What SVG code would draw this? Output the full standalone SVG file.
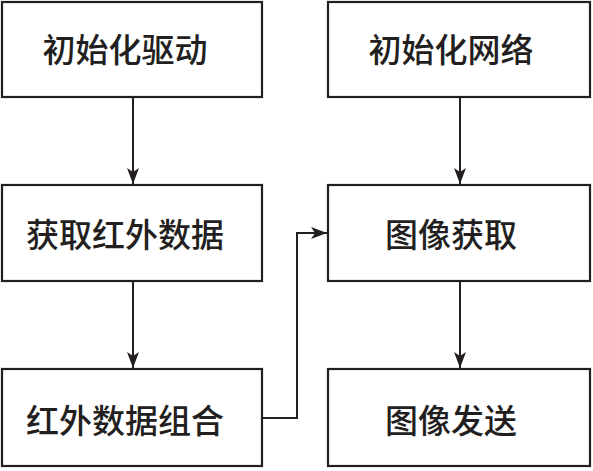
<svg xmlns="http://www.w3.org/2000/svg" width="593" height="471" viewBox="0 0 593 471">
<style>
.box{fill:#fff;stroke:#231f20;stroke-width:2.2}
.lbl{font-family:"Noto Sans CJK SC","Noto Sans CJK JP",sans-serif;font-size:33px;font-weight:500;fill:#231f20;text-anchor:middle;dominant-baseline:central}
.conn{fill:none;stroke:#231f20;stroke-width:2}
</style>
<defs>
<marker id="ah" markerWidth="16" markerHeight="12" refX="16" refY="6" viewBox="0 0 16 12" markerUnits="userSpaceOnUse" orient="auto">
<path d="M0,0 L16,6 L0,12 L4,6 Z" fill="#231f20"/>
</marker>
</defs>
<rect width="593" height="471" fill="#fff"/>
<g id="n1"><rect class="box" x="2" y="2" width="260" height="95"/><text class="lbl" x="125" y="48">初始化驱动</text></g>
<g id="n2"><rect class="box" x="328" y="2" width="262" height="95"/><text class="lbl" x="451" y="48">初始化网络</text></g>
<g id="n3"><rect class="box" x="2" y="185" width="260" height="96"/><text class="lbl" x="125" y="233">获取红外数据</text></g>
<g id="n4"><rect class="box" x="328" y="185" width="262" height="96"/><text class="lbl" x="451" y="233">图像获取</text></g>
<g id="n5"><rect class="box" x="2" y="369" width="260" height="97"/><text class="lbl" x="125" y="419">红外数据组合</text></g>
<g id="n6"><rect class="box" x="328" y="369" width="262" height="97"/><text class="lbl" x="451" y="419">图像发送</text></g>
<g id="connectors">
<path class="conn" d="M133,97 V184" marker-end="url(#ah)"/>
<path class="conn" d="M133,281 V368" marker-end="url(#ah)"/>
<path class="conn" d="M460,97 V184" marker-end="url(#ah)"/>
<path class="conn" d="M460,281 V368" marker-end="url(#ah)"/>
<path class="conn" d="M262,418 H297 V233 H327" marker-end="url(#ah)"/>
</g>
</svg>
